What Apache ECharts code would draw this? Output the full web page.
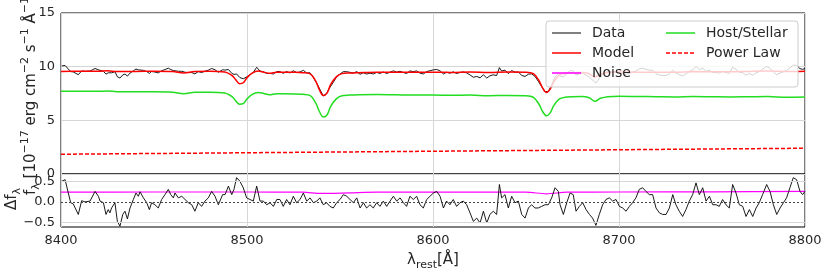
<!DOCTYPE html>
<html><head><meta charset="utf-8">
<script src="https://cdn.jsdelivr.net/npm/echarts@6/dist/echarts.min.js"></script>
<style>html,body{margin:0;padding:0;background:#fff}#c{width:830px;height:277px}</style>
</head><body><div id="c"></div>
<script>
// Wavelengths of the observed spectrum samples [Å]
const wave = [8400.4,8402.2,8405.2,8406.6,8407.5,8409.3,8411.1,8412.9,8413.8,8415.6,8418.3,8420.1,8421.0,8422.8,8424.2,8425.4,8426.3,8427.2,8429.0,8430.3,8431.7,8433.2,8434.4,8435.7,8437.1,8438.9,8440.3,8441.6,8442.5,8444.3,8446.1,8447.5,8448.7,8450.5,8452.3,8454.1,8455.9,8457.7,8459.0,8460.4,8461.3,8463.1,8464.9,8466.7,8468.5,8470.3,8472.0,8473.8,8475.6,8477.4,8479.2,8481.0,8482.8,8484.6,8485.5,8486.9,8488.2,8490.0,8491.8,8493.0,8494.4,8496.2,8498.0,8499.8,8501.6,8503.4,8505.2,8507.0,8508.8,8510.6,8512.4,8514.2,8516.0,8517.7,8519.5,8521.3,8523.1,8524.9,8526.7,8528.5,8530.3,8532.1,8533.9,8535.7,8537.5,8539.2,8541.0,8542.8,8544.6,8546.4,8548.2,8550.0,8551.8,8553.6,8555.4,8557.2,8559.0,8560.8,8562.6,8564.3,8566.1,8567.9,8569.7,8571.5,8573.3,8575.1,8576.9,8578.7,8580.5,8582.3,8584.1,8585.8,8587.6,8589.4,8591.2,8593.0,8594.8,8596.6,8598.4,8600.2,8602.0,8603.8,8605.6,8607.3,8609.1,8610.9,8612.7,8614.5,8616.3,8618.1,8619.9,8621.7,8623.5,8625.3,8627.1,8628.9,8630.6,8632.4,8634.2,8635.7,8636.9,8638.7,8640.5,8642.3,8644.1,8645.9,8647.7,8649.5,8651.3,8653.0,8654.8,8656.6,8658.4,8660.2,8662.0,8663.8,8665.6,8667.4,8668.3,8670.1,8671.9,8673.7,8675.4,8676.9,8678.7,8680.5,8682.3,8684.1,8685.8,8687.6,8689.4,8691.2,8693.0,8694.8,8696.6,8698.4,8700.2,8702.0,8703.8,8705.6,8707.3,8709.1,8710.9,8712.7,8714.5,8716.3,8718.1,8719.9,8721.7,8723.5,8725.3,8727.1,8728.9,8730.6,8732.4,8734.2,8736.0,8737.8,8739.6,8741.4,8743.2,8745.0,8746.8,8748.6,8750.4,8752.2,8753.9,8755.7,8757.5,8759.3,8761.1,8762.9,8764.7,8766.5,8768.3,8770.1,8771.9,8773.7,8775.4,8777.2,8779.4,8781.2,8783.0,8784.8,8786.6,8788.4,8790.1,8791.9,8793.7,8795.5,8797.3,8798.7,8800.0];
// Observed flux [1e-17 erg/cm2/s/Å]
const dataFlux = [10.07,10.11,9.54,9.51,9.54,9.25,9.60,9.57,9.60,9.59,9.83,9.71,9.60,9.57,9.30,9.43,9.33,9.43,9.53,9.06,8.94,9.23,9.31,9.12,9.40,9.61,9.78,9.70,9.81,9.66,9.54,9.37,9.55,9.50,9.42,9.62,9.73,9.86,9.73,9.64,9.74,9.57,9.57,9.48,9.45,9.45,9.33,9.54,9.45,9.58,9.67,9.83,9.71,9.48,9.48,9.71,9.68,9.74,9.38,9.28,9.32,8.98,8.88,9.04,9.26,9.47,9.94,9.59,9.53,9.37,9.37,9.32,9.54,9.54,9.38,9.55,9.41,9.62,9.45,9.51,9.66,9.41,9.43,8.98,8.45,7.88,7.27,7.50,8.07,8.55,9.05,9.31,9.54,9.53,9.47,9.40,9.54,9.29,9.43,9.31,9.40,9.32,9.46,9.37,9.50,9.36,9.49,9.61,9.49,9.57,9.45,9.36,9.61,9.53,9.61,9.40,9.32,9.54,9.62,9.70,9.74,9.61,9.32,9.48,9.39,9.52,9.36,9.46,9.51,9.42,9.23,9.01,9.09,8.96,9.24,8.94,9.15,9.24,9.17,9.91,9.59,9.68,9.35,9.64,9.48,9.51,9.18,9.09,9.30,9.33,9.10,8.65,8.14,7.68,7.68,8.30,9.05,9.36,9.15,9.02,9.36,9.63,9.61,9.21,9.33,9.42,9.21,9.02,8.75,8.47,8.91,9.29,9.49,9.55,9.49,9.55,9.39,9.35,9.27,9.39,9.47,9.59,9.80,9.84,9.75,9.67,9.67,9.34,9.22,9.18,9.17,9.33,9.66,9.41,9.26,9.14,9.32,9.54,9.71,10.01,9.72,9.88,9.55,9.67,9.46,9.46,9.41,9.58,9.45,9.37,9.95,9.75,9.47,9.44,9.19,9.37,9.20,9.42,9.55,9.76,10.02,9.84,9.50,9.25,9.41,9.53,9.64,9.90,10.15,10.11,9.82,9.75,9.83];
// Residual (data - model)
const residual = [0.51,0.55,-0.02,-0.05,-0.02,-0.31,0.03,0.00,0.03,0.02,0.26,0.14,0.02,-0.02,-0.31,-0.19,-0.27,-0.15,-0.02,-0.48,-0.60,-0.31,-0.23,-0.42,-0.15,0.06,0.22,0.14,0.25,0.10,-0.02,-0.19,-0.02,-0.07,-0.15,0.06,0.18,0.31,0.18,0.10,0.22,0.10,0.14,0.06,-0.02,-0.07,-0.23,-0.02,-0.11,0.02,0.10,0.26,0.14,-0.07,-0.07,0.18,0.18,0.39,0.18,0.31,0.60,0.51,0.35,0.10,0.06,0.02,0.39,0.02,0.02,-0.07,-0.02,-0.11,0.06,0.06,-0.11,0.06,-0.07,0.14,-0.02,0.06,0.22,0.02,0.10,-0.02,0.02,0.10,-0.07,-0.02,-0.11,-0.15,-0.02,0.06,0.18,0.14,0.06,-0.02,0.10,-0.15,-0.02,-0.15,-0.07,-0.15,-0.02,-0.11,0.02,-0.11,0.02,0.14,0.02,0.10,-0.02,-0.11,0.14,0.06,0.14,-0.07,-0.15,0.06,0.14,0.22,0.26,0.14,-0.15,0.02,-0.07,0.06,-0.11,-0.02,0.02,-0.07,-0.27,-0.48,-0.40,-0.52,-0.23,-0.52,-0.31,-0.23,-0.31,0.43,0.10,0.18,-0.15,0.14,-0.02,0.02,-0.31,-0.40,-0.15,-0.07,-0.15,-0.15,-0.11,-0.07,-0.07,0.10,0.35,0.26,-0.07,-0.31,-0.02,0.22,0.18,-0.23,-0.11,-0.02,-0.19,-0.31,-0.40,-0.58,-0.31,-0.07,0.06,0.10,0.02,0.06,-0.11,-0.15,-0.23,-0.11,-0.02,0.10,0.31,0.35,0.26,0.18,0.18,-0.15,-0.27,-0.31,-0.31,-0.15,0.18,-0.07,-0.23,-0.36,-0.19,0.02,0.18,0.47,0.18,0.35,0.02,0.14,-0.07,-0.07,-0.11,0.06,-0.07,-0.15,0.43,0.22,-0.07,-0.11,-0.36,-0.19,-0.36,-0.15,-0.02,0.18,0.43,0.26,-0.07,-0.31,-0.15,-0.02,0.10,0.35,0.60,0.55,0.26,0.18,0.26];
// Model components sampled on a coarser grid
const compWave = [8400,8410,8420,8425,8430,8440,8450,8460,8466,8472,8480,8488,8492,8494,8496,8498,8500,8503,8506,8509,8512,8516,8520,8525,8530,8534,8537,8539,8541,8543,8545,8548,8551,8555,8560,8570,8580,8590,8600,8610,8620,8630,8640,8650,8654,8657,8659,8661,8663,8665,8668,8671,8675,8680,8684,8687,8690,8694,8700,8710,8720,8730,8740,8750,8760,8770,8780,8790,8800];
const host = [7.72,7.72,7.70,7.74,7.66,7.66,7.66,7.62,7.48,7.62,7.62,7.55,7.20,6.80,6.50,6.55,7.00,7.45,7.60,7.50,7.38,7.48,7.48,7.46,7.42,7.30,6.60,5.80,5.30,5.50,6.30,7.00,7.30,7.35,7.38,7.40,7.38,7.36,7.36,7.33,7.35,7.30,7.32,7.30,7.15,6.50,5.80,5.42,5.70,6.40,7.00,7.15,7.20,7.22,7.10,6.78,7.05,7.20,7.24,7.22,7.20,7.18,7.22,7.20,7.18,7.20,7.22,7.15,7.17];
const model = [9.56,9.57,9.57,9.62,9.54,9.56,9.57,9.54,9.41,9.56,9.57,9.51,9.17,8.77,8.42,8.50,8.98,9.43,9.59,9.49,9.38,9.48,9.49,9.48,9.44,9.33,8.63,7.83,7.32,7.54,8.34,9.05,9.35,9.41,9.44,9.48,9.47,9.47,9.48,9.46,9.50,9.46,9.50,9.49,9.35,8.70,8.00,7.60,7.91,8.61,9.22,9.37,9.43,9.45,9.34,9.02,9.30,9.45,9.50,9.49,9.49,9.48,9.54,9.53,9.52,9.56,9.59,9.54,9.57];
const plWave = [8400,8500,8600,8700,8800];
const powerLaw = [1.84,1.98,2.12,2.26,2.40];
const noiseWave = [8400,8450,8500,8530,8540,8555,8570,8600,8650,8661,8672,8700,8750,8800];
const noise = [0.24,0.245,0.245,0.24,0.21,0.225,0.24,0.24,0.24,0.20,0.24,0.245,0.25,0.26];
const xTicks = [8400,8500,8600,8700,8800];
const topTicks = [0,5,10,15];
const botTicks = [-0.5,0.0,0.5];

const FONT = 'DejaVu Sans';
const TXT = '#262626';
const GRIDC = '#d6d6d6';
const pairs = (xs, ys) => xs.map((x, i) => [x, ys[i]]);
// legend line samples (bounding box 29 x 14, a horizontal stroke through the middle)
const solidIcon = w => 'path://M0,0 L0,0 M0,' + (7 - w / 2) + ' L29,' + (7 - w / 2) + ' L29,' + (7 + w / 2) + ' L0,' + (7 + w / 2) + ' Z M29,14 L29,14';
const dashedIcon = (() => {
  let p = 'path://M0,0 L0,0 ';
  for (let x = 0; x < 29; x += 6) {
    const e = Math.min(x + 4, 29);
    p += 'M' + x + ',6.25 L' + e + ',6.25 L' + e + ',7.75 L' + x + ',7.75 Z ';
  }
  return p + 'M29,14 L29,14';
})();

const chart = echarts.init(document.getElementById('c'), null, {renderer: 'canvas'});
const legendText = {fontFamily: FONT, fontSize: 14, color: TXT, padding: [0, 0, 0, 6]};
const option = {
  animation: false,
  backgroundColor: '#fff',
  grid: [
    {left: 61, right: 25, top: 13, height: 161, show: true, borderColor: '#000', borderWidth: 1, backgroundColor: 'transparent'},
    {left: 61, right: 25, top: 174, height: 53, show: true, borderColor: '#000', borderWidth: 1, backgroundColor: 'transparent'}
  ],
  xAxis: [
    {type: 'value', gridIndex: 0, min: 8400, max: 8800, interval: 100,
     axisLine: {show: false}, axisTick: {show: false}, axisLabel: {show: false},
     splitLine: {show: true, lineStyle: {color: GRIDC, width: 1}}},
    {type: 'value', gridIndex: 1, min: 8400, max: 8800, interval: 100,
     axisLine: {show: false}, axisTick: {show: false},
     axisLabel: {show: true, fontFamily: FONT, fontSize: 13, color: TXT, margin: 7, formatter: v => String(v)},
     splitLine: {show: true, lineStyle: {color: GRIDC, width: 1}},
     name: '{m|λ}{s|rest}{m|[Å]}', nameLocation: 'middle', nameGap: 22,
     nameTextStyle: {fontFamily: FONT, color: TXT, rich: {
       m: {fontFamily: FONT, fontSize: 15, color: TXT, lineHeight: 22, verticalAlign: 'middle'},
       s: {fontFamily: FONT, fontSize: 11, color: TXT, lineHeight: 12, verticalAlign: 'bottom'}
     }}}
  ],
  yAxis: [
    {type: 'value', gridIndex: 0, min: 0, max: 15, interval: 5,
     axisLine: {show: false}, axisTick: {show: false},
     axisLabel: {fontFamily: FONT, fontSize: 13, color: TXT, margin: 6},
     splitLine: {show: true, lineStyle: {color: GRIDC, width: 1}}},
    {type: 'value', gridIndex: 1, min: -0.62, max: 0.69,
     axisLine: {show: false}, axisTick: {show: false},
     axisLabel: {fontFamily: FONT, fontSize: 13, color: TXT, margin: 6,
       customValues: botTicks,
       formatter: v => (v < 0 ? '\u2212' : '') + Math.abs(v).toFixed(1)},
     splitLine: {show: false}}
  ],
  legend: [
    {left: 552, top: 26, orient: 'vertical', padding: 0, itemGap: 6, itemWidth: 29, itemHeight: 14, z: 60,
     data: [
       {name: 'Data', icon: solidIcon(1)},
       {name: 'Model', icon: solidIcon(1.5)},
       {name: 'Noise', icon: solidIcon(1.5)}
     ],
     textStyle: legendText},
    {left: 666, top: 26, orient: 'vertical', padding: 0, itemGap: 6, itemWidth: 29, itemHeight: 14, z: 60,
     data: [
       {name: 'Host/Stellar', icon: solidIcon(1.5)},
       {name: 'Power Law', icon: dashedIcon}
     ],
     textStyle: legendText}
  ],
  graphic: [
    {type: 'rect', z: 50, shape: {x: 546, y: 21, width: 252, height: 66, r: 3},
     style: {fill: 'rgba(255,255,255,0.8)', stroke: '#cccccc', lineWidth: 1}},
    {type: 'text', z: 60, x: 31, y: 93, rotation: Math.PI / 2,
     style: {text: '{m|f}{s|λ}{m| [10}{p|\u221217}{m| erg cm}{p|\u22122}{m| s}{p|\u22121}{m| Å}{p|\u22121}{m|]}',
       align: 'center', verticalAlign: 'middle', fill: TXT,
       rich: {
         m: {fontFamily: FONT, fontSize: 15, fill: TXT, lineHeight: 22, verticalAlign: 'middle'},
         s: {fontFamily: FONT, fontSize: 11, fill: TXT, lineHeight: 12, verticalAlign: 'bottom'},
         p: {fontFamily: FONT, fontSize: 11, fill: TXT, lineHeight: 12, verticalAlign: 'top'}
       }}},
    {type: 'text', z: 60, x: 12, y: 199, rotation: Math.PI / 2,
     style: {text: '{m|Δf}{s|λ}', align: 'center', verticalAlign: 'middle', fill: TXT,
       rich: {
         m: {fontFamily: FONT, fontSize: 15, fill: TXT, lineHeight: 22, verticalAlign: 'middle'},
         s: {fontFamily: FONT, fontSize: 11, fill: TXT, lineHeight: 12, verticalAlign: 'bottom'}
       }}}
  ],
  series: [
    {name: 'Data', type: 'line', xAxisIndex: 0, yAxisIndex: 0, data: pairs(wave, dataFlux),
     symbol: 'none', lineStyle: {color: '#000', width: 0.9}, itemStyle: {color: '#000'}, z: 3},
    {name: 'Model', type: 'line', xAxisIndex: 0, yAxisIndex: 0, data: pairs(compWave, model),
     symbol: 'none', smooth: 0.35, lineStyle: {color: '#ff0000', width: 1.5}, itemStyle: {color: '#ff0000'}, z: 4},
    {name: 'Host/Stellar', type: 'line', xAxisIndex: 0, yAxisIndex: 0, data: pairs(compWave, host),
     symbol: 'none', smooth: 0.35, lineStyle: {color: '#22dd22', width: 1.5}, itemStyle: {color: '#22dd22'}, z: 3},
    {name: 'Power Law', type: 'line', xAxisIndex: 0, yAxisIndex: 0, data: pairs(plWave, powerLaw),
     symbol: 'none', lineStyle: {color: '#ff0000', width: 1.5, type: [4, 2]}, itemStyle: {color: '#ff0000'}, z: 3},
    {name: 'Noise', type: 'line', xAxisIndex: 1, yAxisIndex: 1, data: pairs(noiseWave, noise),
     symbol: 'none', smooth: 0.3, lineStyle: {color: '#ff00ff', width: 1.2}, itemStyle: {color: '#ff00ff'}, z: 3},
    {name: 'Residual', type: 'line', xAxisIndex: 1, yAxisIndex: 1, data: pairs(wave, residual),
     symbol: 'none', lineStyle: {color: '#000', width: 0.9}, itemStyle: {color: '#000'}, z: 4,
     markLine: {silent: true, symbol: 'none', label: {show: false}, animation: false,
       data: [
         {yAxis: botTicks[0], lineStyle: {color: GRIDC, width: 1, type: 'solid'}},
         {yAxis: botTicks[2], lineStyle: {color: GRIDC, width: 1, type: 'solid'}},
         {yAxis: botTicks[1], lineStyle: {color: '#444', width: 1, type: [2, 2]}}
       ]}}
  ]
};
chart.setOption(option);
</script></body></html>
